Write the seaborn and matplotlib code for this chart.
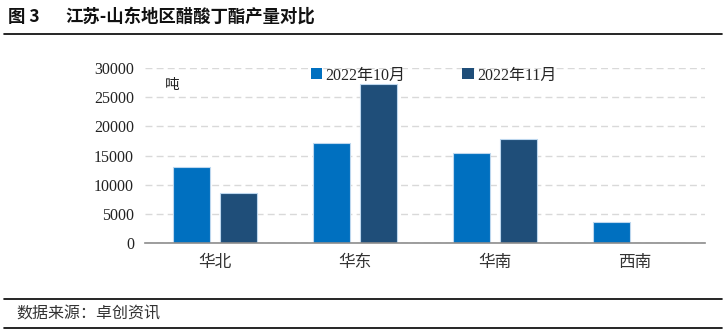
import numpy as np
import pandas as pd
import matplotlib
matplotlib.use("Agg")
import matplotlib.pyplot as plt
import seaborn as sns

categories = ["华北", "华东", "华南", "西南"]
series_names = ["2022年10月", "2022年11月"]
oct_values = [12950, 17100, 15400, 3550]
nov_values = [8500, 27200, 17800, np.nan]
yticks = [0, 5000, 10000, 15000, 20000, 25000, 30000]

sns.set_theme(style="white")
plt.rcParams['font.family'] = ['Noto Sans CJK SC', 'DejaVu Sans']

df = pd.DataFrame({
    "region": categories * 2,
    "series": [series_names[0]] * 4 + [series_names[1]] * 4,
    "value": oct_values + nov_values,
})

fig = plt.figure(figsize=(7.26, 3.30), dpi=100)
ax = fig.add_axes([145/726, 1-243/330, 560/726, 175/330])

colors = ["#0070C0", "#1F4E79"]
sns.barplot(data=df, x="region", y="value", hue="series", order=categories,
            hue_order=series_names, palette=colors, saturation=1, width=0.66, gap=0.2,
            edgecolor="#BDD7EE", linewidth=0.8, ax=ax, legend=True, errorbar=None)

ax.set_ylim(0, 30000)
ax.set_yticks(yticks)
ax.set_yticklabels([str(v) for v in yticks], family="Liberation Serif", fontsize=11.5, color="#222222")
ax.set_xlabel("")
ax.set_ylabel("")
ax.tick_params(axis="x", length=0, pad=8, labelsize=12, labelcolor="#333333")
ax.tick_params(axis="y", length=0, pad=8)
ax.yaxis.grid(True, linestyle=(0, (5, 3)), color="#D9D9D9", linewidth=1)
ax.set_axisbelow(True)
for s in ["top", "right", "left"]:
    ax.spines[s].set_visible(False)
ax.spines["bottom"].set_color("#8C8C8C")
ax.spines["bottom"].set_linewidth(1.2)

leg = ax.legend(loc="upper left", bbox_to_anchor=(0.27, 1.085), ncol=2, frameon=False,
                handlelength=0.7, handleheight=0.7, handletextpad=0.2,
                columnspacing=3.6, prop={"family": ["Liberation Serif", "Noto Sans CJK SC"], "size": 11.5})
for h in leg.legend_handles:
    h.set_edgecolor("none")

fig.text(165/726, 1-85/330, "吨", fontsize=10.5, va="center", ha="left", color="#222222")

# title and frame lines
fig.text(8/726, 1-17/330, "图 3", fontsize=12.5, fontweight="bold",
         va="center", ha="left", color="#111111")
fig.text(65/726, 1-17/330, "江苏-山东地区醋酸丁酯产量对比", fontsize=12.5, fontweight="bold",
         va="center", ha="left", color="#111111")
fig.add_artist(plt.Line2D([4/726, 722/726], [1-34/330, 1-34/330], color="black", linewidth=1.2))
fig.add_artist(plt.Line2D([4/726, 722/726], [1-299/330, 1-299/330], color="black", linewidth=1.2))
fig.add_artist(plt.Line2D([4/726, 722/726], [1-328/330, 1-328/330], color="black", linewidth=1.2))
fig.text(16/726, 1-314/330, "数据来源：卓创资讯", fontsize=11.5, va="center", ha="left", color="#333333")

fig.savefig("out.png", dpi=100)
